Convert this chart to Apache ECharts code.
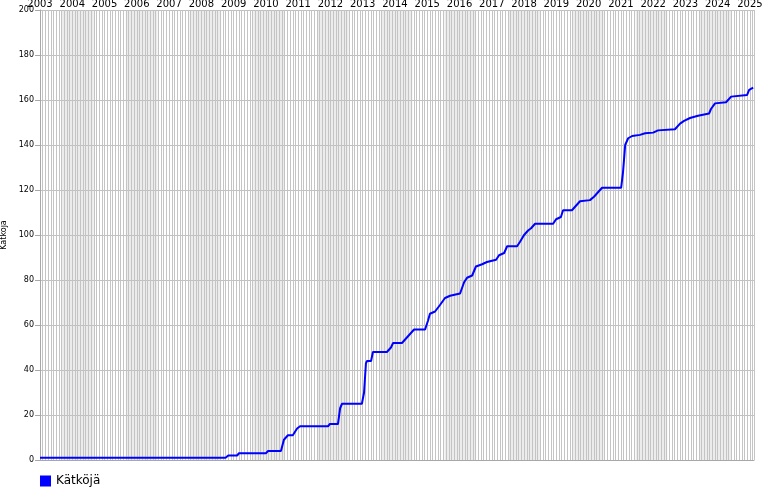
<!DOCTYPE html>
<html>
<head>
<meta charset="utf-8">
<script src="https://cdn.jsdelivr.net/npm/echarts@6/dist/echarts.min.js"></script>
<style>html,body{margin:0;padding:0;background:#fff}#c{width:770px;height:500px}</style>
</head>
<body>
<div id="c"></div>
<script>
// months since Jan 2003
const startYear = 2003;
const monthIdx = [0, 69, 70, 73.3, 74, 84, 84.8, 89.6, 90.7, 92.2, 94, 95.6, 96.7, 107.1, 107.8, 110.8, 111.6, 112.3, 119.7, 120.5, 121.2, 121.6, 123.1, 123.8, 129, 130.5, 131.3, 134.6, 136.1, 137.6, 139.1, 143.2, 144.3, 145, 146.9, 148.8, 150.6, 152.5, 156.2, 157.7, 158.8, 160.7, 162.1, 164.4, 166.2, 169.6, 170.7, 172.6, 173.7, 177.4, 178.5, 180, 181.5, 182.6, 184.1, 190.8, 191.9, 193.7, 194.5, 197.8, 199.3, 200.8, 204.5, 206, 207.5, 209, 216.1, 216.8, 217.6, 218.7, 220.2, 223.1, 225, 228, 229.8, 236.1, 238, 239.5, 241.7, 244.7, 248.8, 249.5, 251, 255.1, 257, 262.9, 263.7, 265.2];
const caches = [1, 1, 2, 2, 3, 3, 4, 4, 9, 11, 11, 14, 15, 15, 16, 16, 23, 25, 25, 30, 43, 44, 44, 48, 48, 50, 52, 52, 54, 56, 58, 58, 62, 65, 66, 69, 72, 73, 74, 79, 81, 82, 86, 87, 88, 89, 91, 92, 95, 95, 97, 100, 102, 103, 105, 105, 107, 108, 111, 111, 113, 115, 115.5, 117, 119, 121, 121, 128, 140, 143, 144, 144.5, 145.2, 145.5, 146.5, 147, 149.5, 150.7, 152, 153, 154, 156, 158.5, 159, 161.5, 162.2, 164.5, 165.5];
const bandStart = [8.2, 31.9, 55.6, 79.3, 103, 126.7, 150.4, 174.1, 197.8, 221.5, 245.2];
const bandEnd = [20, 43.7, 67.4, 91.1, 114.8, 138.5, 162.2, 185.9, 209.6, 233.3, 257];
const yTicks = [0, 200, 20];
const xMax = 265.5;
const seriesName = 'Kätköjä';

const chart = echarts.init(document.getElementById('c'), null, {renderer: 'canvas'});
const lineData = monthIdx.map((m, i) => [m, caches[i]]);
const bands = bandStart.map((s, i) => [{xAxis: s}, {xAxis: bandEnd[i]}]);
chart.setOption({
  animation: false,
  textStyle: {fontFamily: 'DejaVu Sans'},
  grid: {left: 40, right: 16, top: 10, bottom: 40, containLabel: false, outerBoundsMode: 'none'},
  legend: {
    data: [seriesName], left: 40, top: 475, icon: 'rect', itemWidth: 11, itemHeight: 11, itemGap: 4,
    textStyle: {fontSize: 12, color: '#000', fontFamily: 'DejaVu Sans'}, padding: 0
  },
  xAxis: [{
    type: 'value', position: 'top', min: 0, max: xMax, interval: 12,
    axisLine: {show: false}, axisTick: {show: false}, splitLine: {show: false},
    axisLabel: {margin: 1, fontSize: 10, color: '#000', showMaxLabel: false, hideOverlap: false,
      formatter: v => (v % 12 === 0 ? String(startYear + v / 12) : '')}
  }, {
    type: 'value', position: 'bottom', min: 0, max: xMax, interval: 1,
    axisLine: {show: true, lineStyle: {color: '#a8a8a8', width: 1}},
    axisTick: {show: false}, axisLabel: {show: false},
    splitLine: {show: true, lineStyle: {color: '#c4c4c4', width: 1}}
  }],
  yAxis: {
    type: 'value', min: yTicks[0], max: yTicks[1], interval: yTicks[2],
    name: seriesName, nameLocation: 'middle', nameGap: 27, nameRotate: 90,
    nameTextStyle: {fontSize: 8, color: '#000', fontFamily: 'DejaVu Sans'},
    axisLine: {show: true, lineStyle: {color: '#a8a8a8'}},
    axisTick: {show: true, length: 5, lineStyle: {color: '#a8a8a8'}},
    axisLabel: {fontSize: 8, color: '#000', margin: 6, fontFamily: 'DejaVu Sans'},
    splitLine: {show: true, lineStyle: {color: '#c0c0c0'}}
  },
  series: [{
    name: 'bands', type: 'line', xAxisIndex: 1, z: -1, data: [], symbol: 'none', silent: true,
    markArea: {silent: true, z: -1, itemStyle: {color: 'rgba(0,0,0,0.075)'}, data: bands}
  }, {
    name: seriesName, type: 'line', xAxisIndex: 1, data: lineData, symbol: 'none', showSymbol: false,
    color: '#0000ff', lineStyle: {color: '#0000ff', width: 2}, z: 5
  }]
});
</script>
</body>
</html>
